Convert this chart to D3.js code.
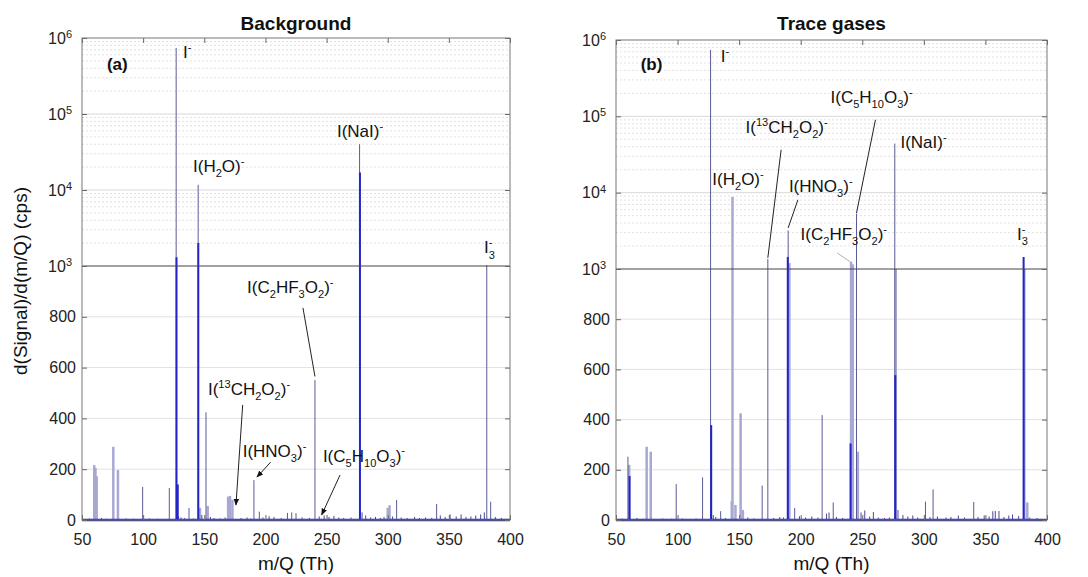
<!DOCTYPE html>
<html>
<head>
<meta charset="utf-8">
<script src="https://cdn.jsdelivr.net/npm/d3@7"></script>
<style>
body { margin: 0; background: #fff; }
svg { font-family: "Liberation Sans", Arial, sans-serif; }
</style>
</head>
<body>
<svg id="chart" width="1088" height="577"></svg>
<script>
const xTicks = [50, 100, 150, 200, 250, 300, 350, 400];
const linTicks = [0, 200, 400, 600, 800];
const logTicks = [1e3, 1e4, 1e5, 1e6];
const panelTitles = ['Background', 'Trace gases'];

// panel (a) background spectrum, [m/Q, signal]
const bgThin = [[99.6, 130], [121.4, 126], [127, 740000], [137.5, 47], [145, 11700], [151.4, 424],
    [190.6, 157], [195, 33], [218, 28], [221.5, 30], [225, 27], [240.5, 551], [277, 40000],
    [307.3, 79], [340, 63], [381, 1030], [384.2, 72]];
const bgCore = [[127.3, 1300], [128.3, 140], [145.1, 2000], [277.3, 17000]];
const bgPale = [[60, 216], [61, 205], [62, 172], [75.6, 288], [79.4, 197], [146.5, 48], [152.8, 55],
    [169.5, 92], [171, 95], [173, 80], [300, 48], [301.5, 58]];
const bgNoise = [[56, 6], [66, 8], [70, 5], [86, 6], [92, 5], [105, 6], [112, 5], [129, 14], [131, 10],
    [134, 8], [141, 6], [148, 20], [155, 12], [158, 8], [163, 6], [167, 10], [180, 8], [185, 10],
    [188, 6], [198, 10], [203, 15], [207, 12], [213, 8], [230, 10], [236, 8], [244, 14], [248, 18],
    [252, 12], [256, 16], [260, 10], [264, 8], [270, 10], [279, 30], [282, 18], [286, 10], [290, 12],
    [294, 8], [297, 12], [304, 14], [311, 10], [316, 8], [322, 12], [326, 8], [331, 10], [336, 8],
    [343, 18], [347, 12], [351, 22], [356, 14], [360, 22], [364, 12], [368, 14], [372, 18], [376, 22],
    [379, 30], [388, 12], [393, 8]];

// panel (b) trace gases spectrum
const trThin = [[59.7, 252], [98.9, 143], [120.3, 170], [126.8, 740000], [135, 35], [168.7, 137],
    [173.3, 1350], [189.8, 3200], [195.1, 48], [217.4, 418], [226.4, 70], [245.3, 5300],
    [276.4, 44000], [301.3, 73], [307.5, 122], [340.5, 72]];
const trCore = [[61, 175], [127.3, 378], [189.5, 1440], [240.5, 305], [276.8, 577], [381, 1440]];
const trPale = [[60.7, 220], [74.9, 292], [78.2, 272], [144, 75], [144.6, 8800], [147, 60], [151.2, 425],
    [153, 40], [190.8, 1200], [240.9, 1240], [242.3, 1150], [246.4, 272], [277.2, 1000],
    [381.6, 1000], [384, 70]];
const trNoise = [[55, 6], [67, 8], [72, 5], [88, 6], [95, 5], [104, 6], [115, 6], [129, 20], [131, 12],
    [139, 8], [157, 10], [162, 6], [178, 8], [183, 12], [186, 10], [199, 15], [204, 10], [209, 14],
    [214, 10], [221, 25], [223, 30], [229, 12], [234, 8], [249, 30], [252, 38], [256, 14], [259, 32],
    [263, 10], [268, 8], [272, 10], [279, 40], [283, 20], [287, 14], [291, 18], [295, 10], [305, 12],
    [311, 14], [318, 10], [322, 12], [328, 18], [333, 10], [344, 12], [349, 18], [353, 14], [356, 35],
    [358, 36], [361, 36], [365, 12], [369, 18], [372, 22], [377, 16], [386, 10], [392, 8]];

// peak labels, anchored in data space [m/Q, signal]
const bgLabels = [
    ['(a)', 70.4, 3.8e5], ['I^{-}', 132.6, 5.5e5], ['I(H_{2}O)^{-}', 140.8, 1.73e4],
    ['I(NaI)^{-}', 258.5, 4.97e4], ['I_{3}^{-}', 378.7, 1480], ['I(C_{2}HF_{3}O_{2})^{-}', 185, 894],
    ['I(^{13}CH_{2}O_{2})^{-}', 153, 492], ['I(HNO_{3})^{-}', 181.4, 249],
    ['I(C_{5}H_{10}O_{3})^{-}', 247, 230]];
const bgLeaders = [[230.7, 835, 240.5, 565, 0], [181.4, 453, 175.9, 59, 1],
    [204.3, 228, 193.1, 169, 1], [261, 177, 246, 20, 1]];
const trLabels = [
    ['(b)', 70, 4.1e5], ['I^{-}', 135, 5.2e5], ['I(C_{5}H_{10}O_{3})^{-}', 224.2, 1.5e5],
    ['I(^{13}CH_{2}O_{2})^{-}', 155.2, 6.1e4], ['I(NaI)^{-}', 281, 3.87e4],
    ['I(H_{2}O)^{-}', 128.2, 1.27e4], ['I(HNO_{3})^{-}', 190.4, 1.02e4],
    ['I(C_{2}HF_{3}O_{2})^{-}', 199.9, 2400], ['I_{3}^{-}', 375.7, 2400]];
const trLeaders = [[260.7, 9.0e4, 245.3, 5400, 0], [184.1, 3.65e4, 173.3, 1400, 0],
    [197.7, 8050, 189.8, 3450, 0], [229.6, 1620, 240.5, 1235, 2]];

const svg = d3.select('#chart');
svg.append('defs').append('marker')
    .attr('id', 'arrow')
    .attr('viewBox', '0 0 10 10')
    .attr('refX', 9).attr('refY', 5)
    .attr('markerWidth', 7).attr('markerHeight', 7)
    .attr('orient', 'auto-start-reverse')
    .append('path').attr('d', 'M0,1L10,5L0,9Z').attr('fill', '#111');

function richText(sel, str, size) {
    const re = /(_|\^)\{([^}]*)\}|([^_^]+)/g;
    let m, shift = 0, prev = null, prevLen = 0;
    const small = size * 0.65;
    while ((m = re.exec(str))) {
        if (m[3]) {
            sel.append('tspan').attr('dy', -shift).text(m[3]);
            shift = 0; prev = 'n';
        } else {
            const kind = m[1] === '_' ? 'sub' : 'sup';
            const target = kind === 'sub' ? 0.32 * size : -0.42 * size;
            const ts = sel.append('tspan').attr('font-size', small).attr('dy', target - shift).text(m[2]);
            if (prev === 'sub' && kind === 'sup') ts.attr('dx', -prevLen * small * 0.556);
            shift = target; prev = kind; prevLen = m[2].length;
        }
    }
}

function drawPanel(p) {
    const x = d3.scaleLinear().domain([50, 400]).range([p.left, p.right]);
    const yLin = d3.scaleLinear().domain([0, 1000]).range([p.bottom, p.mid]);
    const yLog = d3.scaleLog().domain([1e3, 1e6]).range([p.mid, p.top]);
    const y = (v) => (v <= 1000 ? yLin(v) : yLog(v));
    const g = svg.append('g');

    // grid
    const grid = g.append('g');
    grid.selectAll('.lg').data(linTicks.slice(1)).enter().append('line')
        .attr('x1', p.left).attr('x2', p.right)
        .attr('y1', (d) => yLin(d)).attr('y2', (d) => yLin(d))
        .attr('stroke', '#e2e2e2');
    const minor = [];
    [1e3, 1e4, 1e5].forEach((d) => { for (let k = 2; k < 10; k++) minor.push(k * d); });
    grid.selectAll('.mg').data(minor).enter().append('line')
        .attr('x1', p.left).attr('x2', p.right)
        .attr('y1', (d) => yLog(d)).attr('y2', (d) => yLog(d))
        .attr('stroke', '#e2e2e2').attr('stroke-dasharray', '2,2');
    grid.selectAll('.Mg').data([1e4, 1e5]).enter().append('line')
        .attr('x1', p.left).attr('x2', p.right)
        .attr('y1', (d) => yLog(d)).attr('y2', (d) => yLog(d))
        .attr('stroke', '#d8d8d8');

    // spectrum
    const stems = (data, color, width) => {
        g.append('g').selectAll('line').data(data).enter().append('line')
            .attr('x1', (d) => x(d[0])).attr('x2', (d) => x(d[0]))
            .attr('y1', y(0)).attr('y2', (d) => y(d[1]))
            .attr('stroke', color).attr('stroke-width', width);
    };
    stems(p.pale, '#a8a8d4', 2.5);
    stems(p.noise, '#4a4a9a', 1);
    stems(p.thin, '#5a5a98', 1);
    stems(p.core, '#2424c8', 2);
    g.append('line')
        .attr('x1', x(50)).attr('x2', x(400))
        .attr('y1', y(0)).attr('y2', y(0))
        .attr('stroke', '#2a2a9c').attr('stroke-width', 2.5);

    // split line at 10^3
    g.append('line')
        .attr('x1', p.left).attr('x2', p.right)
        .attr('y1', yLin(1000)).attr('y2', yLin(1000))
        .attr('stroke', '#444');

    // axes
    const styleAxis = (sel) => {
        sel.select('.domain').remove();
        sel.selectAll('.tick line').attr('stroke', '#666');
        sel.selectAll('.tick text').attr('fill', '#222').attr('font-size', 16)
            .attr('font-family', '"Liberation Sans", Arial, sans-serif');
    };
    g.append('g').attr('transform', `translate(${p.left},0)`)
        .call(d3.axisLeft(yLin).tickValues(linTicks).tickSizeInner(-5).tickSizeOuter(0).tickPadding(6))
        .call(styleAxis);
    const logAx = g.append('g').attr('transform', `translate(${p.left},0)`)
        .call(d3.axisLeft(yLog).tickValues(logTicks).tickSizeInner(-5).tickSizeOuter(0).tickPadding(10))
        .call(styleAxis);
    logAx.selectAll('.tick text').each(function (d) {
        const t = d3.select(this);
        t.text('10');
        t.append('tspan').attr('dy', '-0.5em').attr('font-size', 11).text(Math.round(Math.log10(d)));
    });
    g.append('g').attr('transform', `translate(${p.right},0)`)
        .call(d3.axisRight(yLin).tickValues(linTicks).tickSizeInner(-5).tickSizeOuter(0).tickFormat(''))
        .call(styleAxis);
    g.append('g').attr('transform', `translate(${p.right},0)`)
        .call(d3.axisRight(yLog).tickValues(logTicks).tickSizeInner(-5).tickSizeOuter(0).tickFormat(''))
        .call(styleAxis);
    g.append('g').attr('transform', `translate(0,${p.bottom})`)
        .call(d3.axisBottom(x).tickValues(xTicks).tickSizeInner(-5).tickSizeOuter(0).tickPadding(14))
        .call(styleAxis);
    g.append('g').attr('transform', `translate(0,${p.top})`)
        .call(d3.axisTop(x).tickValues(xTicks).tickSizeInner(-5).tickSizeOuter(0).tickFormat(''))
        .call(styleAxis);

    g.append('rect')
        .attr('x', p.left).attr('y', p.top)
        .attr('width', p.right - p.left).attr('height', p.bottom - p.top)
        .attr('fill', 'none').attr('stroke', '#777');

    // leaders and labels
    g.selectAll('.leader').data(p.leaders).enter().append('line')
        .attr('x1', (d) => x(d[0])).attr('y1', (d) => y(d[1]))
        .attr('x2', (d) => x(d[2])).attr('y2', (d) => y(d[3]))
        .attr('stroke', (d) => (d[4] === 2 ? '#b0b0b0' : '#222'))
        .attr('marker-end', (d) => (d[4] === 1 ? 'url(#arrow)' : null));
    p.labels.forEach((d) => {
        const bold = d[0].startsWith('(');
        const t = g.append('text')
            .attr('x', x(d[1])).attr('y', y(d[2]))
            .attr('font-size', 17).attr('fill', '#111')
            .attr('font-weight', bold ? 'bold' : 'normal');
        richText(t, d[0], 17);
    });

    // titles
    const cx = (p.left + p.right) / 2;
    g.append('text').attr('x', cx).attr('y', 30)
        .attr('text-anchor', 'middle').attr('font-size', 19).attr('font-weight', 'bold')
        .attr('fill', '#111').text(p.title);
    g.append('text').attr('x', cx).attr('y', 570)
        .attr('text-anchor', 'middle').attr('font-size', 19).attr('fill', '#111')
        .text('m/Q (Th)');
}

drawPanel({ left: 82, right: 510, top: 38, mid: 266, bottom: 520, title: panelTitles[0],
    thin: bgThin, core: bgCore, pale: bgPale, noise: bgNoise, labels: bgLabels, leaders: bgLeaders });
drawPanel({ left: 616, right: 1047, top: 40, mid: 269, bottom: 520, title: panelTitles[1],
    thin: trThin, core: trCore, pale: trPale, noise: trNoise, labels: trLabels, leaders: trLeaders });

svg.append('text')
    .attr('transform', 'translate(27,281) rotate(-90)')
    .attr('text-anchor', 'middle').attr('font-size', 19).attr('fill', '#111')
    .text('d(Signal)/d(m/Q) (cps)');
</script>
</body>
</html>
